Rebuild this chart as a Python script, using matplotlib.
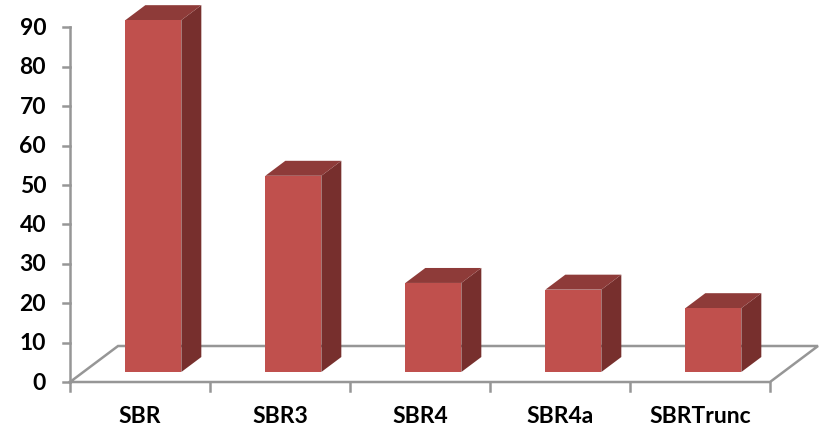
import numpy as np
import matplotlib.pyplot as plt
from matplotlib.patches import Polygon

categories = ["SBR", "SBR3", "SBR4", "SBR4a", "SBRTrunc"]
values = [89.3, 49.8, 22.6, 20.9, 16.2]
y_ticks = [0, 10, 20, 30, 40, 50, 60, 70, 80, 90]

# oblique 3d look: depth 0 = front edge of floor, depth 1 = back edge
DX = 0.343   # shift in category units for full depth
DY = 9.14    # shift in value units for full depth
bar_d0, bar_d1 = 0.278, 0.694
bar_w = 0.4

front_col = "#C0504D"
top_col = "#8E3B39"
side_col = "#772F2D"
axis_col = "#969696"


def proj(x, v, d):
    return (x + DX * d, v + DY * d)


plt.rcParams['font.family'] = ['Lato', 'DejaVu Sans']

fig = plt.figure(figsize=(8.25, 4.31), dpi=100)
ax = fig.add_axes([0, 0, 1, 1])
ax.set_xlim(-0.5, 5.3929)
ax.set_ylim(-12.18, 97.21)
ax.axis('off')

n = len(categories)

# floor outline
floor = [proj(0, 0, 0), proj(n, 0, 0), proj(n, 0, 1), proj(0, 0, 1), proj(0, 0, 0)]
fx, fy = zip(*floor)
ax.plot(fx, fy, color=axis_col, lw=1.8, solid_joinstyle='miter', zorder=1)

# value axis
ax.plot([0, 0], [0, y_ticks[-1]], color=axis_col, lw=1.8, zorder=1)
for t in y_ticks:
    ax.plot([-0.05, 0], [t, t], color=axis_col, lw=1.8, zorder=1)
    ax.text(-0.17, t, str(t), ha='right', va='center', fontsize=16.5,
            fontweight='bold', color='black')

# category ticks and labels
for i in range(n + 1):
    ax.plot([i, i], [0, -2.3], color=axis_col, lw=1.8, zorder=1)
for i, name in enumerate(categories):
    ax.text(i + 0.5, -8.4, name, ha='center', va='center', fontsize=16.5,
            fontweight='bold', color='black')

# 3d columns
for i, v in enumerate(values):
    x0 = i + 0.5 - bar_w / 2
    x1 = i + 0.5 + bar_w / 2
    front = [proj(x0, 0, bar_d0), proj(x1, 0, bar_d0),
             proj(x1, v, bar_d0), proj(x0, v, bar_d0)]
    side = [proj(x1, 0, bar_d0), proj(x1, 0, bar_d1),
            proj(x1, v, bar_d1), proj(x1, v, bar_d0)]
    top = [proj(x0, v, bar_d0), proj(x1, v, bar_d0),
           proj(x1, v, bar_d1), proj(x0, v, bar_d1)]
    ax.add_patch(Polygon(side, closed=True, fc=side_col, ec='none', zorder=3))
    ax.add_patch(Polygon(top, closed=True, fc=top_col, ec='none', zorder=3))
    ax.add_patch(Polygon(front, closed=True, fc=front_col, ec='none', zorder=3))

fig.savefig("out.png", dpi=100, facecolor='white')
